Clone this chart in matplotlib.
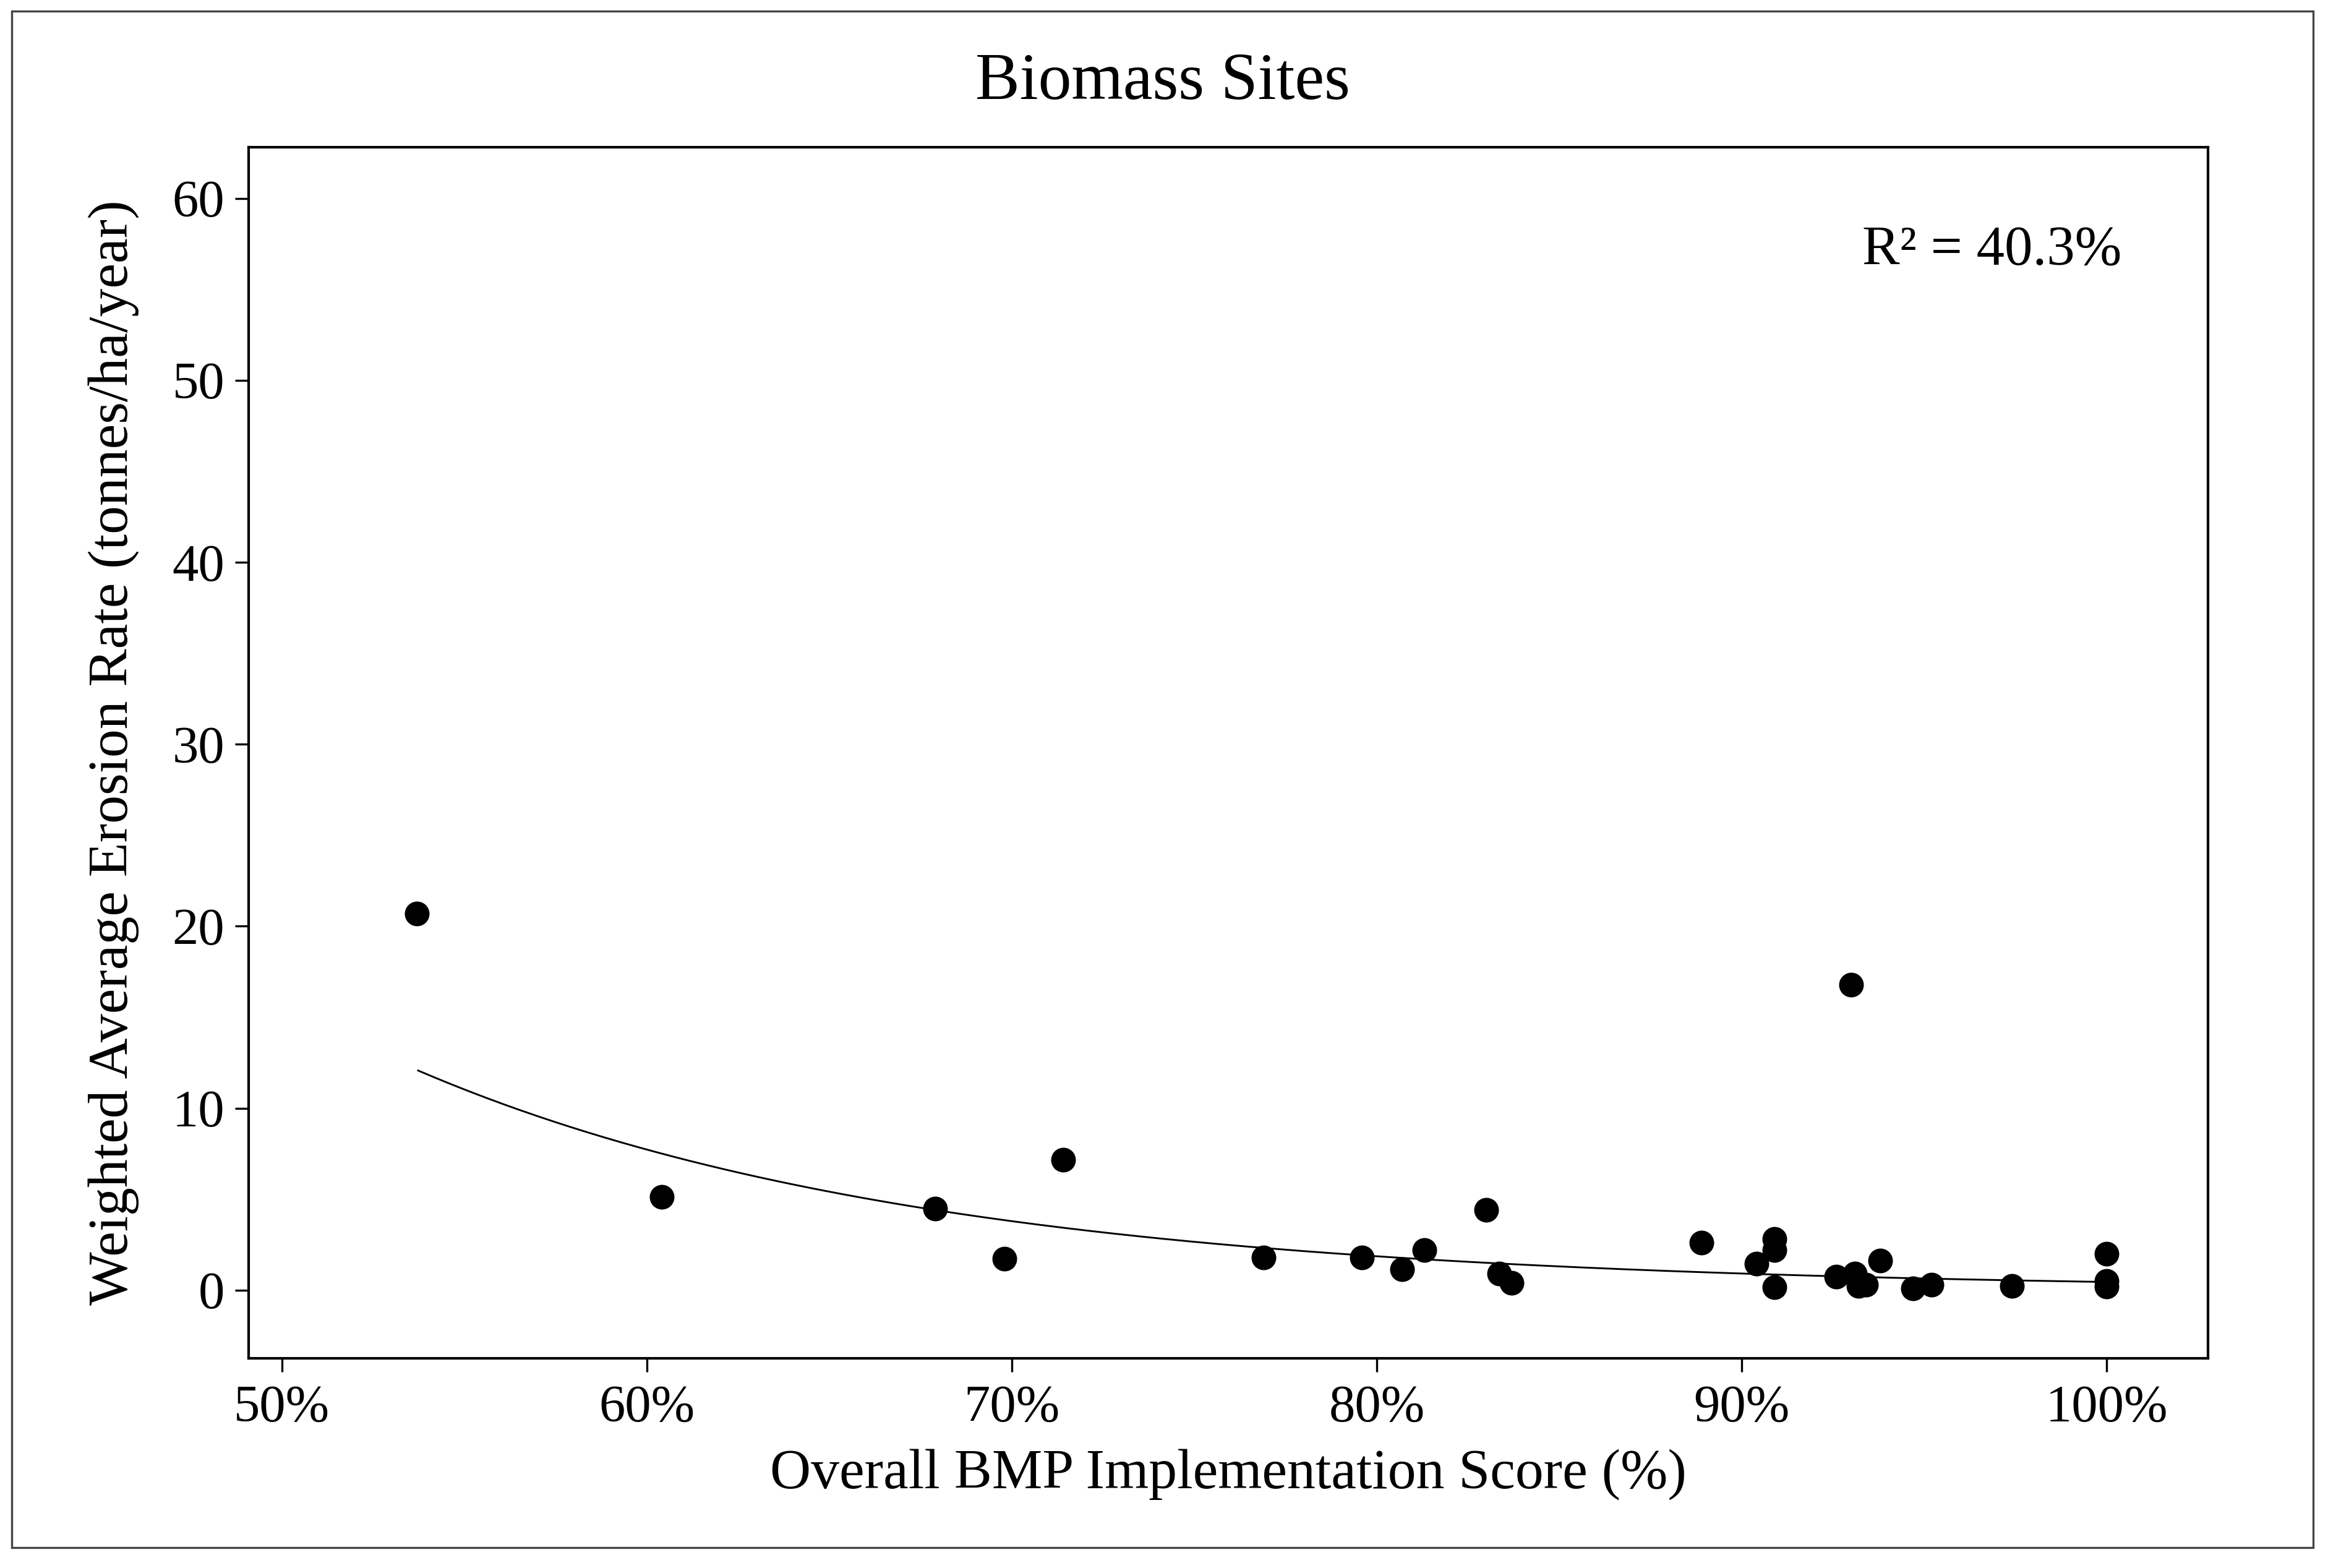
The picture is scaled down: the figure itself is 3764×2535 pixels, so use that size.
import numpy as np
import matplotlib
matplotlib.use("Agg")
import matplotlib.pyplot as plt
from matplotlib.patches import Rectangle
from matplotlib.ticker import FuncFormatter

# Data
bmp_score = [53.7, 60.4, 67.9, 69.8, 71.4, 76.9, 79.6, 80.7, 81.3, 83.0,
             83.35, 83.7, 88.9, 90.4, 90.9, 90.9, 90.9, 92.6, 93.0, 93.1,
             93.2, 93.4, 93.8, 94.7, 95.2, 97.4, 100.0, 100.0, 100.0]
erosion = [20.68, 5.14, 4.49, 1.71, 7.18, 1.8, 1.8, 1.14, 2.2, 4.4,
           0.9, 0.4, 2.6, 1.47, 2.8, 2.2, 0.16, 0.73, 16.8, 0.9,
           0.24, 0.3, 1.63, 0.08, 0.3, 0.24, 2.0, 0.5, 0.2]

# Fitted exponential curve parameters: y = A * exp(B * (x - X0))
fit_A = 12.07
fit_B = -0.0712
fit_X0 = 53.73
fit_range = [53.73, 100.0]
r2_text = "R\u00b2 = 40.3%"

x_ticks = [50, 60, 70, 80, 90, 100]
y_ticks = [0, 10, 20, 30, 40, 50, 60]

plt.rcParams['font.family'] = ['Liberation Serif', 'DejaVu Serif']

fig = plt.figure(figsize=(3764 / 300, 2535 / 300), dpi=300)
ax = fig.add_axes([0.1067, 0.1337, 0.8418, 0.7726])

ax.scatter(bmp_score, erosion, s=92, color='black', zorder=3, linewidths=0)

xf = np.linspace(fit_range[0], fit_range[1], 200)
ax.plot(xf, fit_A * np.exp(fit_B * (xf - fit_X0)), color='black', lw=0.7, zorder=2)

ax.set_xlim(49.08, 102.78)
ax.set_ylim(-3.75, 62.83)
ax.set_xticks(x_ticks)
ax.set_yticks(y_ticks)
ax.xaxis.set_major_formatter(FuncFormatter(lambda v, p: f"{v:.0f}%"))

for s in ax.spines.values():
    s.set_linewidth(1.0)
ax.tick_params(axis='both', direction='out', length=5.2, width=0.8, labelsize=20.3)
ax.tick_params(axis='x', pad=5)
ax.tick_params(axis='y', pad=4)

ax.set_xlabel("Overall BMP Implementation Score (%)", fontsize=22)
ax.xaxis.label.set_va('baseline')
ax.xaxis.set_label_coords(0.5, -0.1072)
ax.set_ylabel("Weighted Average Erosion Rate (tonnes/ha/year)", fontsize=22)
ax.yaxis.label.set_va('baseline')
ax.yaxis.set_label_coords(-0.0618, 0.5)

fig.text(0.4994, 0.9369, "Biomass Sites", ha='center', va='baseline', fontsize=25.8)
ax.text(0.8236, 0.9027, r2_text, transform=ax.transAxes, ha='left', va='baseline', fontsize=21.8)

fig.patches.append(Rectangle((0.005, 0.013), 0.9886, 0.9799, transform=fig.transFigure,
                             fill=False, edgecolor='#444444', lw=0.8))

fig.savefig("out.png", dpi=300, facecolor='white')
